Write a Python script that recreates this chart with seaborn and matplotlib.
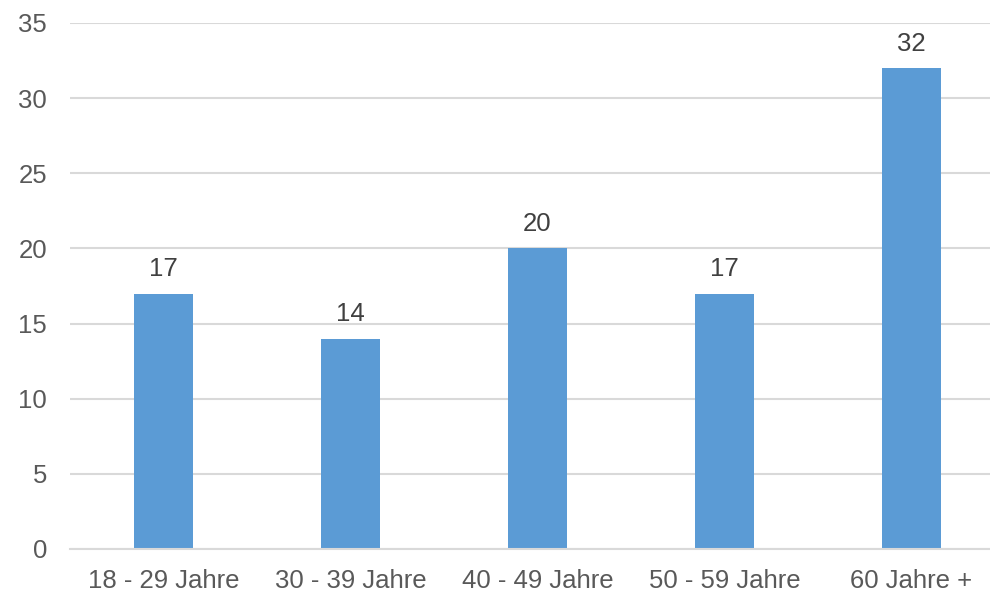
import matplotlib
matplotlib.use("Agg")
import matplotlib.pyplot as plt
import seaborn as sns
import pandas as pd

# data
categories = ["18 - 29 Jahre", "30 - 39 Jahre", "40 - 49 Jahre", "50 - 59 Jahre", "60 Jahre +"]
values = [17, 14, 20, 17, 32]
y_ticks = [0, 5, 10, 15, 20, 25, 30, 35]

df = pd.DataFrame({"Gruppe": categories, "Wert": values})

sns.set_theme(style="white")
plt.rcParams["font.family"] = ["Liberation Sans", "DejaVu Sans"]

text_col = "#595959"
grid_col = "#D9D9D9"
fs = 18.5

fig = plt.figure(figsize=(9.9, 5.94), dpi=100)
ax = fig.add_axes([70 / 990, 1 - 549 / 594, 935 / 990, (549 - 23) / 594])

sns.barplot(data=df, x="Gruppe", y="Wert", color="#5B9BD5", saturation=1,
            width=0.315, linewidth=0, ax=ax, zorder=3)

ax.set_ylim(0, 35)
ax.set_yticks(y_ticks)
ax.set_xlim(-0.5, len(categories) - 0.5)
ax.yaxis.grid(True, color=grid_col, linewidth=1.5, zorder=0)
ax.set_axisbelow(True)

for s in ["top", "right", "left"]:
    ax.spines[s].set_visible(False)
ax.spines["bottom"].set_color(grid_col)
ax.spines["bottom"].set_linewidth(1.5)
ax.spines["bottom"].set_zorder(4)

ax.tick_params(axis="y", length=0, pad=16.5, labelsize=fs, labelcolor=text_col)
ax.tick_params(axis="x", length=0, pad=14.5, labelsize=fs, labelcolor=text_col)
ax.set_xlabel("")
ax.set_ylabel("")

for i, v in enumerate(values):
    ax.annotate(str(v), (i, v), xytext=(0, 9), textcoords="offset points",
                ha="center", va="bottom", fontsize=fs, color="#404040")

fig.savefig("out.png", dpi=100)
